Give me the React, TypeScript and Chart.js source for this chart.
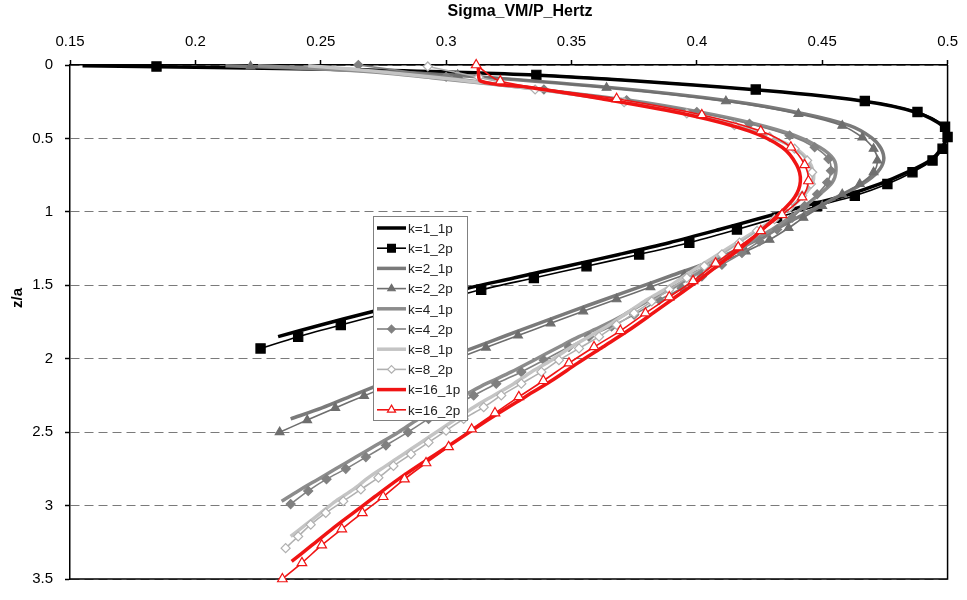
import React, { useEffect, useRef } from "react";
import { Chart, registerables } from "chart.js";

Chart.register(...registerables);

// ---------- axis ticks / titles ----------
const X_TICKS = [0.15, 0.2, 0.25, 0.3, 0.35, 0.4, 0.45, 0.5];
const X_TICK_LABELS = ["0.15", "0.2", "0.25", "0.3", "0.35", "0.4", "0.45", "0.5"];
const Y_TICKS = [0, 0.5, 1, 1.5, 2, 2.5, 3, 3.5];
const Y_TICK_LABELS = ["0", "0.5", "1", "1.5", "2", "2.5", "3", "3.5"];
const X_TITLE = "Sigma_VM/P_Hertz";
const Y_TITLE = "z/a";
const SERIES_NAMES = ["k=1_1p", "k=1_2p", "k=2_1p", "k=2_2p", "k=4_1p", "k=4_2p", "k=8_1p", "k=8_2p", "k=16_1p", "k=16_2p"];

// ---------- data: z/a (Z) and Sigma_VM/P_Hertz (S) ----------
const K1_1P_Z = [0.005, 0.03, 0.067, 0.167, 0.245, 0.32, 0.42, 0.49, 0.57, 0.65, 0.73, 0.81, 0.89, 0.96, 1.04, 1.12, 1.21, 1.29, 1.37, 1.45, 1.53, 1.61, 1.69, 1.77, 1.85];
const K1_1P_S = [0.155, 0.26, 0.333, 0.422, 0.466, 0.487, 0.4985, 0.4995, 0.4975, 0.493, 0.484, 0.473, 0.459, 0.443, 0.426, 0.409, 0.389, 0.369, 0.348, 0.327, 0.306, 0.287, 0.268, 0.25, 0.233];

const K1_2P_Z = [0.01, 0.067, 0.167, 0.245, 0.32, 0.42, 0.49, 0.57, 0.65, 0.73, 0.81, 0.89, 0.96, 1.04, 1.12, 1.21, 1.29, 1.37, 1.45, 1.53, 1.61, 1.69, 1.77, 1.85, 1.93];
const K1_2P_S = [0.1845, 0.336, 0.4235, 0.467, 0.488, 0.499, 0.5, 0.498, 0.494, 0.486, 0.476, 0.463, 0.448, 0.432, 0.416, 0.397, 0.377, 0.356, 0.335, 0.314, 0.295, 0.276, 0.258, 0.241, 0.226];

const K2_1P_Z = [0.005, 0.035, 0.067, 0.155, 0.247, 0.333, 0.413, 0.493, 0.57, 0.65, 0.73, 0.81, 0.88, 0.96, 1.04, 1.11, 1.19, 1.27, 1.35, 1.43, 1.512, 1.595, 1.677, 1.759, 1.842, 1.924, 2.006, 2.089, 2.171, 2.253, 2.335, 2.41];
const K2_1P_S = [0.212, 0.262, 0.3, 0.366, 0.414, 0.443, 0.461, 0.4695, 0.4735, 0.4745, 0.472, 0.466, 0.458, 0.449, 0.44, 0.4325, 0.424, 0.4145, 0.4035, 0.3905, 0.377, 0.3635, 0.35, 0.337, 0.324, 0.3112, 0.2985, 0.2862, 0.2742, 0.2623, 0.2505, 0.238];

const K2_2P_Z = [0.01, 0.067, 0.155, 0.247, 0.333, 0.413, 0.493, 0.57, 0.65, 0.73, 0.81, 0.88, 0.96, 1.04, 1.11, 1.19, 1.27, 1.35, 1.43, 1.512, 1.595, 1.677, 1.759, 1.842, 1.924, 2.006, 2.089, 2.171, 2.253, 2.335, 2.418, 2.5];
const K2_2P_S = [0.222, 0.3046, 0.364, 0.4116, 0.4405, 0.458, 0.466, 0.4705, 0.472, 0.4705, 0.465, 0.458, 0.45, 0.4425, 0.4366, 0.429, 0.4195, 0.4085, 0.395, 0.3815, 0.368, 0.3547, 0.3417, 0.3287, 0.3159, 0.3034, 0.2911, 0.2791, 0.2673, 0.2558, 0.2446, 0.2336];

const K4_1P_Z = [0.005, 0.04, 0.09, 0.167, 0.24, 0.32, 0.4, 0.48, 0.56, 0.64, 0.72, 0.8, 0.88, 0.96, 1.04, 1.12, 1.2, 1.28, 1.36, 1.44, 1.52, 1.6, 1.7, 1.78, 1.85, 1.92, 2.01, 2.09, 2.17, 2.25, 2.33, 2.41, 2.5, 2.59, 2.67, 2.75, 2.82, 2.9, 2.97];
const K4_1P_S = [0.225, 0.265, 0.296, 0.338, 0.373, 0.401, 0.423, 0.439, 0.449, 0.4545, 0.4555, 0.454, 0.449, 0.443, 0.437, 0.43, 0.422, 0.415, 0.406, 0.398, 0.39, 0.381, 0.371, 0.362, 0.353, 0.345, 0.335, 0.326, 0.316, 0.307, 0.298, 0.289, 0.281, 0.272, 0.264, 0.256, 0.249, 0.241, 0.2344];

const K4_2P_Z = [0.0, 0.08, 0.167, 0.24, 0.32, 0.4, 0.48, 0.56, 0.64, 0.72, 0.8, 0.88, 0.96, 1.04, 1.12, 1.2, 1.28, 1.36, 1.44, 1.52, 1.6, 1.7, 1.78, 1.85, 1.92, 2.01, 2.09, 2.17, 2.25, 2.33, 2.41, 2.5, 2.59, 2.67, 2.75, 2.82, 2.9, 2.99];
const K4_2P_S = [0.265, 0.3, 0.339, 0.372, 0.4, 0.421, 0.437, 0.447, 0.4525, 0.4535, 0.452, 0.448, 0.443, 0.438, 0.432, 0.425, 0.418, 0.41, 0.402, 0.394, 0.385, 0.375, 0.366, 0.357, 0.349, 0.339, 0.33, 0.32, 0.311, 0.302, 0.293, 0.2848, 0.276, 0.268, 0.26, 0.2523, 0.245, 0.238];

const K8_1P_Z = [0.005, 0.04, 0.09, 0.167, 0.253, 0.33, 0.41, 0.49, 0.57, 0.65, 0.73, 0.81, 0.89, 0.97, 1.05, 1.13, 1.21, 1.29, 1.37, 1.45, 1.53, 1.61, 1.69, 1.77, 1.85, 1.93, 2.01, 2.09, 2.17, 2.25, 2.33, 2.41, 2.49, 2.57, 2.65, 2.73, 2.81, 2.89, 2.97, 3.05, 3.13, 3.21];
const K8_1P_S = [0.245, 0.27, 0.299, 0.337, 0.372, 0.397, 0.4155, 0.4295, 0.4395, 0.4445, 0.4465, 0.446, 0.4425, 0.4375, 0.431, 0.4235, 0.416, 0.4085, 0.401, 0.394, 0.387, 0.379, 0.372, 0.365, 0.357, 0.349, 0.342, 0.334, 0.327, 0.319, 0.311, 0.304, 0.297, 0.29, 0.283, 0.276, 0.269, 0.263, 0.256, 0.25, 0.244, 0.238];

const K8_2P_Z = [0.01, 0.083, 0.167, 0.253, 0.33, 0.41, 0.49, 0.57, 0.65, 0.73, 0.81, 0.89, 0.97, 1.05, 1.13, 1.21, 1.29, 1.37, 1.45, 1.53, 1.61, 1.69, 1.77, 1.85, 1.93, 2.01, 2.09, 2.17, 2.25, 2.33, 2.41, 2.49, 2.57, 2.65, 2.73, 2.81, 2.89, 2.97, 3.05, 3.13, 3.21, 3.29];
const K8_2P_S = [0.2927, 0.313, 0.3355, 0.371, 0.396, 0.415, 0.429, 0.439, 0.444, 0.446, 0.4455, 0.442, 0.437, 0.431, 0.424, 0.417, 0.41, 0.403, 0.396, 0.389, 0.382, 0.375, 0.368, 0.361, 0.353, 0.345, 0.338, 0.33, 0.322, 0.315, 0.307, 0.3, 0.293, 0.286, 0.279, 0.273, 0.266, 0.259, 0.252, 0.246, 0.241, 0.236];

const K16_1P_Z = [0.02, 0.11, 0.15, 0.23, 0.34, 0.45, 0.56, 0.68, 0.79, 0.9, 1.02, 1.13, 1.24, 1.35, 1.47, 1.58, 1.69, 1.81, 1.92, 2.03, 2.15, 2.26, 2.37, 2.48, 2.6, 2.71, 2.82, 2.94, 3.05, 3.16, 3.27, 3.38];
const K16_1P_S = [0.3128, 0.3138, 0.332, 0.362, 0.397, 0.421, 0.434, 0.4398, 0.4413, 0.439, 0.4325, 0.4255, 0.418, 0.4095, 0.4005, 0.3915, 0.3825, 0.3725, 0.3625, 0.3525, 0.342, 0.3315, 0.321, 0.311, 0.3005, 0.2905, 0.281, 0.2715, 0.263, 0.2545, 0.2465, 0.2384];

const K16_2P_Z = [0.0, 0.11, 0.23, 0.34, 0.45, 0.56, 0.68, 0.79, 0.9, 1.02, 1.13, 1.24, 1.35, 1.47, 1.58, 1.69, 1.81, 1.92, 2.03, 2.15, 2.26, 2.37, 2.48, 2.6, 2.71, 2.82, 2.94, 3.05, 3.16, 3.27, 3.39, 3.5];
const K16_2P_S = [0.312, 0.3216, 0.368, 0.402, 0.4255, 0.4375, 0.443, 0.4445, 0.442, 0.434, 0.4255, 0.4165, 0.4075, 0.3985, 0.389, 0.3795, 0.3695, 0.359, 0.349, 0.3388, 0.329, 0.3195, 0.3102, 0.301, 0.292, 0.2834, 0.2749, 0.2666, 0.2584, 0.2504, 0.2425, 0.2347];

const SERIES_S = [K1_1P_S, K1_2P_S, K2_1P_S, K2_2P_S, K4_1P_S, K4_2P_S, K8_1P_S, K8_2P_S, K16_1P_S, K16_2P_S];
const SERIES_Z = [K1_1P_Z, K1_2P_Z, K2_1P_Z, K2_2P_Z, K4_1P_Z, K4_2P_Z, K8_1P_Z, K8_2P_Z, K16_1P_Z, K16_2P_Z];

// ---------- styles ----------
type Style = { color: string; width: number; marker: string | null; fill: string; radius: number };
const STYLES: Style[] = [
  { color: "#000000", width: 3.5, marker: null, fill: "#000000", radius: 0 },
  { color: "#000000", width: 1.6, marker: "rect", fill: "#000000", radius: 6.5 },
  { color: "#7a7a7a", width: 3.5, marker: null, fill: "#7a7a7a", radius: 0 },
  { color: "#6e6e6e", width: 1.6, marker: "triangle", fill: "#6e6e6e", radius: 5 },
  { color: "#8c8c8c", width: 3.5, marker: null, fill: "#8c8c8c", radius: 0 },
  { color: "#808080", width: 1.6, marker: "rectRot", fill: "#808080", radius: 4.5 },
  { color: "#c4c4c4", width: 3.5, marker: null, fill: "#c4c4c4", radius: 0 },
  { color: "#b0b0b0", width: 1.6, marker: "rectRot", fill: "#ffffff", radius: 4.5 },
  { color: "#f01414", width: 3.5, marker: null, fill: "#f01414", radius: 0 },
  { color: "#f01414", width: 1.6, marker: "triangle", fill: "#ffffff", radius: 5.5 },
];

const FONT = "'Liberation Sans', Arial, sans-serif";

function drawMarker(ctx: CanvasRenderingContext2D, kind: string, x: number, y: number, r: number, stroke: string, fill: string) {
  ctx.save();
  ctx.beginPath();
  if (kind === "rect") {
    const s = r * Math.SQRT1_2;
    ctx.rect(x - s, y - s, 2 * s, 2 * s);
  } else if (kind === "triangle") {
    ctx.moveTo(x, y - r);
    ctx.lineTo(x + r * 0.866, y + r * 0.5);
    ctx.lineTo(x - r * 0.866, y + r * 0.5);
    ctx.closePath();
  } else {
    ctx.moveTo(x, y - r);
    ctx.lineTo(x + r, y);
    ctx.lineTo(x, y + r);
    ctx.lineTo(x - r, y);
    ctx.closePath();
  }
  ctx.fillStyle = fill;
  ctx.fill();
  ctx.strokeStyle = stroke;
  ctx.lineWidth = 1.2;
  ctx.stroke();
  ctx.restore();
}

const framePlugin = {
  id: "frameAndLegend",
  beforeDatasetsDraw(chart: any) {
    const { ctx, chartArea: a } = chart;
    ctx.save();
    ctx.strokeStyle = "#000";
    ctx.lineWidth = 1.5;
    ctx.beginPath();
    ctx.moveTo(a.right, a.top);
    ctx.lineTo(a.right, a.bottom);
    ctx.lineTo(a.left, a.bottom);
    ctx.stroke();
    ctx.restore();
  },
  afterDatasetsDraw(chart: any) {
    const { ctx, chartArea: a } = chart;
    const bx = a.left + 303;
    const by = a.top + 151;
    const bw = 94;
    const bh = 204;
    ctx.save();
    ctx.fillStyle = "#fff";
    ctx.fillRect(bx, by, bw, bh);
    ctx.strokeStyle = "#808080";
    ctx.lineWidth = 1;
    ctx.strokeRect(bx + 0.5, by + 0.5, bw, bh);
    ctx.font = `13.5px ${FONT}`;
    ctx.textBaseline = "middle";
    SERIES_NAMES.forEach((name, i) => {
      const st = STYLES[i];
      const y = by + 12 + i * 20.2;
      ctx.strokeStyle = st.color;
      ctx.lineWidth = st.width;
      ctx.beginPath();
      ctx.moveTo(bx + 4, y);
      ctx.lineTo(bx + 33, y);
      ctx.stroke();
      if (st.marker) drawMarker(ctx, st.marker, bx + 18.5, y, st.radius * 0.85, st.color, st.fill);
      ctx.fillStyle = "#222";
      ctx.fillText(name, bx + 35, y + 1);
    });
    ctx.restore();
  },
  afterDraw(chart: any) {
    const { ctx } = chart;
    ctx.save();
    ctx.fillStyle = "#000";
    ctx.font = `bold 16px ${FONT}`;
    ctx.textAlign = "center";
    ctx.textBaseline = "middle";
    ctx.fillText(X_TITLE, 520, 12);
    ctx.font = `bold 15px ${FONT}`;
    ctx.translate(18, 298);
    ctx.rotate(-Math.PI / 2);
    ctx.fillText(Y_TITLE, 0, 0);
    ctx.restore();
  },
};

export default function App() {
  const ref = useRef<HTMLCanvasElement | null>(null);

  useEffect(() => {
    if (!ref.current) return;
    const datasets = SERIES_NAMES.map((name, i) => {
      const st = STYLES[i];
      return {
        label: name,
        data: SERIES_S[i].map((s, j) => ({ x: s, y: SERIES_Z[i][j] })),
        borderColor: st.color,
        backgroundColor: st.fill,
        borderWidth: st.width,
        pointStyle: st.marker || "circle",
        pointRadius: st.marker ? st.radius : 0,
        pointBorderColor: st.color,
        pointBackgroundColor: st.fill,
        pointBorderWidth: 1.2,
        pointHoverRadius: 0,
        tension: 0.3,
        fill: false,
        showLine: true,
        clip: false as any,
        order: SERIES_NAMES.length - i,
      };
    });

    const chart = new Chart(ref.current, {
      type: "scatter",
      data: { datasets },
      options: {
        animation: false,
        responsive: false,
        devicePixelRatio: 1,
        layout: { padding: { left: 0, top: 0, right: 14, bottom: 10 } },
        plugins: { legend: { display: false }, tooltip: { enabled: false }, title: { display: false } },
        events: [],
        scales: {
          x: {
            type: "linear",
            position: "top",
            min: 0.15,
            max: 0.5,
            afterBuildTicks: (s: any) => {
              s.ticks = X_TICKS.map((v) => ({ value: v }));
            },
            afterFit: (s: any) => {
              s.height = 65;
            },
            ticks: {
              autoSkip: false,
              maxRotation: 0,
              padding: 9,
              color: "#000",
              font: { family: FONT, size: 15 },
              callback: (v: any) => X_TICK_LABELS[X_TICKS.findIndex((t) => Math.abs(t - v) < 1e-9)],
            },
            grid: { drawOnChartArea: false, drawTicks: true, tickLength: 5, tickColor: "#000", tickWidth: 1.5 },
            border: { display: true, color: "#000", width: 1.5 },
          },
          y: {
            type: "linear",
            reverse: true,
            min: 0,
            max: 3.5,
            afterBuildTicks: (s: any) => {
              s.ticks = Y_TICKS.map((v) => ({ value: v }));
            },
            afterFit: (s: any) => {
              s.width = 70;
            },
            ticks: {
              autoSkip: false,
              padding: 12,
              color: "#000",
              font: { family: FONT, size: 15 },
              callback: (v: any) => Y_TICK_LABELS[Y_TICKS.findIndex((t) => Math.abs(t - v) < 1e-9)],
            },
            grid: { color: "#7a7a7a", lineWidth: 1, drawTicks: true, tickLength: 5, tickColor: "#000", tickWidth: 1.5, tickBorderDash: [] },
            border: { display: true, color: "#000", width: 1.5, dash: [9, 5] },
          },
        },
      },
      plugins: [framePlugin],
    } as any);
    return () => chart.destroy();
  }, []);

  return (
    <div style={{ position: "absolute", left: 0, top: 0, width: 967, height: 600, background: "#fff" }}>
      <canvas ref={ref} width={967} height={600} style={{ display: "block" }} />
    </div>
  );
}
